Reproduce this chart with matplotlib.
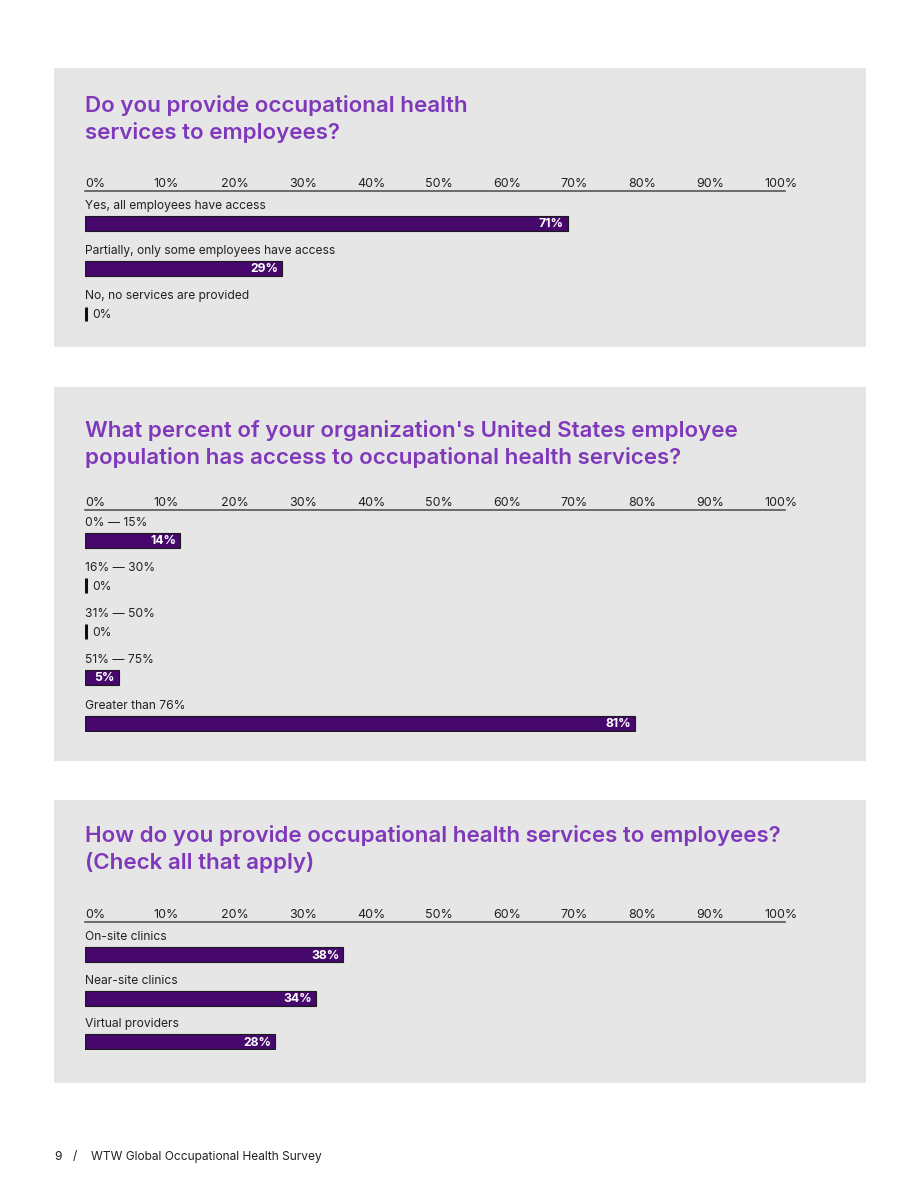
import matplotlib
matplotlib.use("Agg")
import matplotlib.pyplot as plt
from matplotlib.patches import Rectangle

plt.rcParams['font.family'] = ['Inter', 'DejaVu Sans']

# ---- data ----
titles = [
    "Do you provide occupational health\nservices to employees?",
    "What percent of your organization's United States employee\npopulation has access to occupational health services?",
    "How do you provide occupational health services to employees?\n(Check all that apply)",
]
cats1 = ["Yes, all employees have access",
         "Partially, only some employees have access",
         "No, no services are provided"]
vals1 = [71, 29, 0]
cats2 = ["0% \u2014 15%", "16% \u2014 30%", "31% \u2014 50%", "51% \u2014 75%", "Greater than 76%"]
vals2 = [14, 0, 0, 5, 81]
cats3 = ["On-site clinics", "Near-site clinics", "Virtual providers"]
vals3 = [38, 34, 28]
tick_vals = [0, 10, 20, 30, 40, 50, 60, 70, 80, 90, 100]
tick_labels = [f"{t}%" for t in tick_vals]
footer_page = "9"
footer_text = "WTW Global Occupational Health Survey"

# ---- style ----
W, H = 920, 1191
BG_PANEL = "#e6e6e6"
BAR = "#46086c"
TITLE_C = "#7f38ba"
TXT = "#222222"

fig = plt.figure(figsize=(W / 100, H / 100), dpi=100)
fig.patch.set_facecolor("white")


def fx(px):
    return px / W


def fy(py):
    return 1 - py / H


panels = [
    dict(top=68, bottom=347, title_y=105, line_y=191, sp=45.5, d=32, cats=cats1, vals=vals1),
    dict(top=387, bottom=761, title_y=430, line_y=510, sp=45.8, d=30, cats=cats2, vals=vals2),
    dict(top=800, bottom=1083, title_y=835, line_y=922, sp=43.5, d=33, cats=cats3, vals=vals3),
]

X0, X1 = 85, 785
XMAX = 103
BAR_H_PX = 15

for p, title in zip(panels, titles):
    fig.patches.append(Rectangle((fx(54), fy(p["bottom"])), fx(866 - 54), (p["bottom"] - p["top"]) / H,
                                 transform=fig.transFigure, facecolor=BG_PANEL, edgecolor="none", zorder=-5))
    fig.text(fx(X0), fy(p["title_y"] - 10), title, color=TITLE_C, fontsize=16.1, fontweight="semibold",
             ha="left", va="top", linespacing=1.36, zorder=3)

    n = len(p["cats"])
    sp = p["sp"]
    d = p["d"] / sp
    bh = BAR_H_PX / sp
    y_top = -d
    y_bot = (n - 1) + bh / 2 + 0.02
    h_px = (y_bot - y_top) * sp
    ax = fig.add_axes([fx(X0), fy(p["line_y"] + h_px), fx(X1 - X0), h_px / H])
    ax.set_zorder(2)
    ax.set_xlim(0, XMAX)
    ax.set_ylim(y_bot, y_top)
    ax.patch.set_alpha(0)
    for s in ax.spines.values():
        s.set_visible(False)
    ax.set_yticks([])
    ax.xaxis.tick_top()
    ax.set_xticks(tick_vals)
    ax.set_xticklabels(tick_labels, fontsize=9.0, color=TXT, ha="left")
    ax.tick_params(axis="x", length=0, pad=0.5)
    ax.axhline(y_top, color="#555555", lw=1.2, clip_on=False)

    for i, (c, v) in enumerate(zip(p["cats"], p["vals"])):
        ax.text(0, i - 17.5 / sp, c, fontsize=8.7, color=TXT, ha="left", va="center")
        if v > 0:
            ax.barh(i, v, height=bh, color=BAR, edgecolor="#1a1a1a", linewidth=0.8, left=0)
            ax.text(v - 0.6, i + 1.0 / sp, f"{v}%", color="white", fontsize=8.8, fontweight="bold",
                    ha="right", va="center")
        else:
            ax.plot([0.15, 0.15], [i - bh / 2, i + bh / 2], color="#111111", lw=2.2, solid_capstyle="butt")
            ax.text(1.0, i + 1.5 / sp, f"{v}%", color=TXT, fontsize=8.7, ha="left", va="center")

fig.text(fx(54), fy(1157), footer_page, fontsize=8.6, color=TXT, ha="left", va="center")
fig.text(fx(73), fy(1157), "/", fontsize=8.6, color=TXT, ha="left", va="center")
fig.text(fx(91), fy(1157), footer_text, fontsize=8.6, color=TXT, ha="left", va="center")

fig.savefig("out.png", dpi=100, facecolor="white")
